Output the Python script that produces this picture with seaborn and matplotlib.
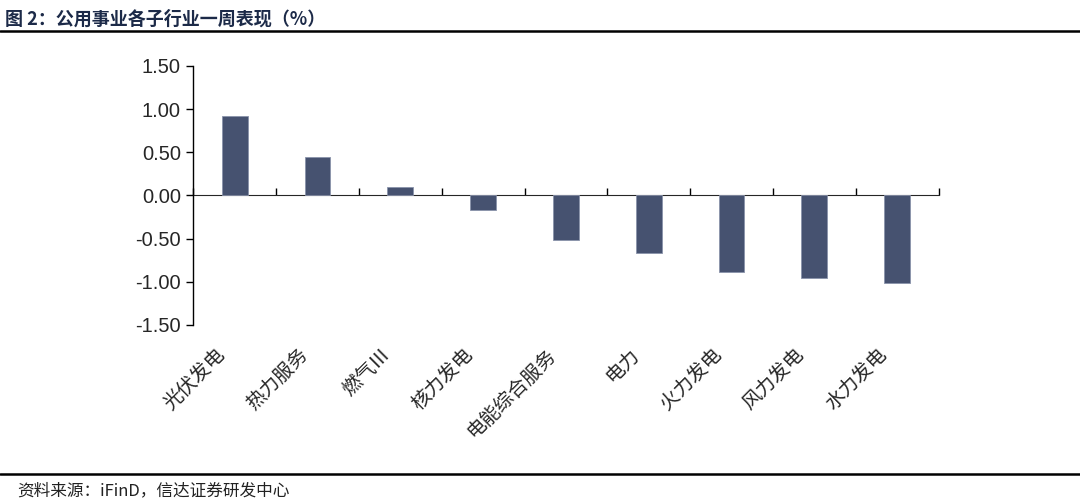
import numpy as np
import pandas as pd
import matplotlib
matplotlib.use('Agg')
import matplotlib.pyplot as plt
import matplotlib.transforms as mtransforms
import seaborn as sns

# 数据
industries = ['光伏发电', '热力服务', '燃气Ⅲ', '核力发电', '电能综合服务',
              '电力', '火力发电', '风力发电', '水力发电']
weekly_pct = [0.92, 0.44, 0.10, -0.17, -0.52, -0.67, -0.89, -0.96, -1.01]
y_ticks = [1.5, 1.0, 0.5, 0.0, -0.5, -1.0, -1.5]

sns.set_style('white')
plt.rcParams['font.family'] = ['Liberation Sans', 'Noto Sans CJK SC', 'DejaVu Sans']
cjk = ['Noto Sans CJK SC', 'DejaVu Sans']

df = pd.DataFrame({'行业': industries, '涨跌幅': weekly_pct})

fig = plt.figure(figsize=(10.8, 5.03), dpi=100)
ax = fig.add_axes([0.179, 0.354, 0.690, 0.515])

sns.barplot(data=df, x='行业', y='涨跌幅', color='#465270', saturation=1,
            width=0.31, edgecolor='#8a93aa', linewidth=0.6, ax=ax)

ax.set_ylim(-1.5, 1.5)
ax.set_xlim(-0.5, len(industries) - 0.5)
ax.set_yticks(y_ticks)
ax.set_yticklabels([f'{v:.2f}' for v in y_ticks], fontsize=14.5)
ax.set_xlabel('')
ax.set_ylabel('')

for side in ['top', 'right', 'bottom']:
    ax.spines[side].set_visible(False)
ax.spines['left'].set_color('black')
ax.spines['left'].set_linewidth(1.0)
ax.tick_params(axis='y', direction='out', length=5, width=1, color='black',
               left=True, pad=4)

# 类别标签放在底部，刻度画在零轴上
ax.set_xticks(range(len(industries)))
ax.set_xticklabels(industries, rotation=45, ha='right', va='top',
                   rotation_mode='anchor', fontsize=14, family=cjk)
ax.tick_params(axis='x', length=0, pad=14, bottom=True)
shift = mtransforms.ScaledTranslation(-0.2, 0, fig.dpi_scale_trans)
for lab in ax.get_xticklabels():
    lab.set_transform(lab.get_transform() + shift)

zero = ax.secondary_xaxis(0.5)
zero.set_xticks(np.arange(-0.5, len(industries), 1.0))
zero.set_xticklabels([])
zero.tick_params(axis='x', direction='out', length=5, width=1, color='black')
zero.spines['bottom'].set_linewidth(1.0)
zero.spines['bottom'].set_color('black')

# 标题、分隔线与来源
fig.text(0.005, 0.962, '图 2：公用事业各子行业一周表现（%）', fontsize=13,
         fontweight='bold', color='#1c2a48', family=cjk, va='center')
fig.add_artist(plt.Line2D([0.0, 1.0], [0.938, 0.938], color='black', lw=1.8))
fig.add_artist(plt.Line2D([0.0, 1.0], [0.058, 0.058], color='black', lw=1.8))
fig.text(0.016, 0.024, '资料来源：iFinD，信达证券研发中心', fontsize=12,
         style='italic', color='#222222', family=cjk, va='center')

fig.savefig('out.png', dpi=100)
